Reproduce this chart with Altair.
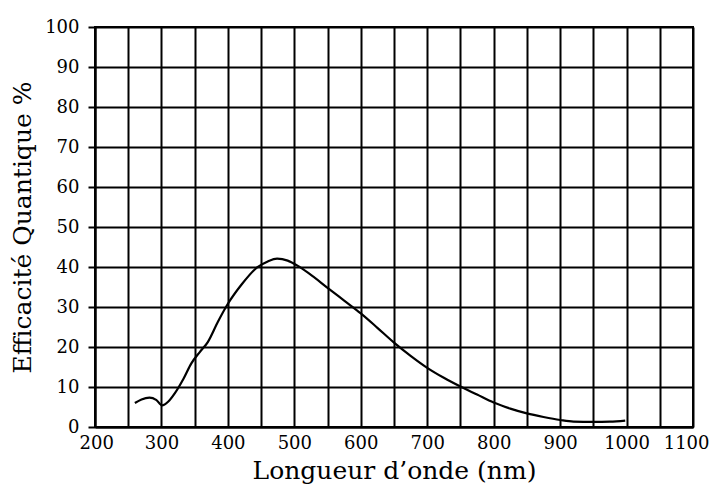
import altair as alt
import pandas as pd

wavelength = [260, 270, 282, 292, 301, 310, 320, 333, 345, 358, 370, 385, 400, 420, 444,
              460, 474, 490, 504, 522, 550, 575, 600, 625, 650, 675, 700, 725, 750, 775,
              800, 825, 850, 875, 900, 920, 950, 975, 998]
efficiency = [6.0, 6.9, 7.35, 6.8, 5.4, 6.3, 8.4, 12.0, 15.9, 18.8, 21.3, 26.3, 30.8, 35.5, 39.9,
              41.4, 42.1, 41.6, 40.4, 38.4, 34.8, 31.6, 28.4, 24.8, 21.1, 17.8, 14.8, 12.3, 10.1, 8.1,
              6.1, 4.6, 3.4, 2.5, 1.75, 1.35, 1.3, 1.35, 1.6]

x_grid = list(range(200, 1101, 50))
y_grid = list(range(0, 101, 10))

df = pd.DataFrame({"wl": wavelength, "qe": efficiency})

FONT = "DejaVu Serif"
TICK_FONT = "DejaVu Serif"

chart = alt.Chart(df).mark_line(
    color="black", strokeWidth=2.2, interpolate="monotone"
).encode(
    x=alt.X("wl:Q",
            scale=alt.Scale(domain=[200, 1100], nice=False, zero=False),
            axis=alt.Axis(values=x_grid, grid=True, ticks=False,
                          labelExpr="datum.value % 100 == 0 ? datum.label : ''",
                          format="d",
                          title="Longueur d’onde (nm)",
                          labelFont=TICK_FONT, labelFontSize=18, labelColor="black",
                          labelPadding=7, labelFlush=True, labelFlushOffset=16,
                          titleFont=FONT, titleFontSize=25, titleFontWeight="normal",
                          titleColor="black", titlePadding=6)),
    y=alt.Y("qe:Q",
            scale=alt.Scale(domain=[0, 100], nice=False),
            axis=alt.Axis(values=y_grid, grid=True, ticks=True, tickSize=7,
                          tickColor="black", tickWidth=2,
                          format="d",
                          title="Efficacité Quantique %",
                          labelFont=TICK_FONT, labelFontSize=18, labelColor="black",
                          labelPadding=9, labelFlush=False,
                          titleFont=FONT, titleFontSize=25, titleFontWeight="normal",
                          titleColor="black", titlePadding=9)),
).properties(
    width=598, height=400,
    autosize=alt.AutoSizeParams(type="none"),
    padding={"left": 87, "top": 19, "right": 17, "bottom": 58},
).configure_axis(
    gridColor="black", gridWidth=2, gridOpacity=1,
    domainColor="black", domainWidth=2,
).configure_view(
    stroke="black", strokeWidth=2,
)

chart.save("out.html", embed_options={"renderer": "svg", "actions": False})
